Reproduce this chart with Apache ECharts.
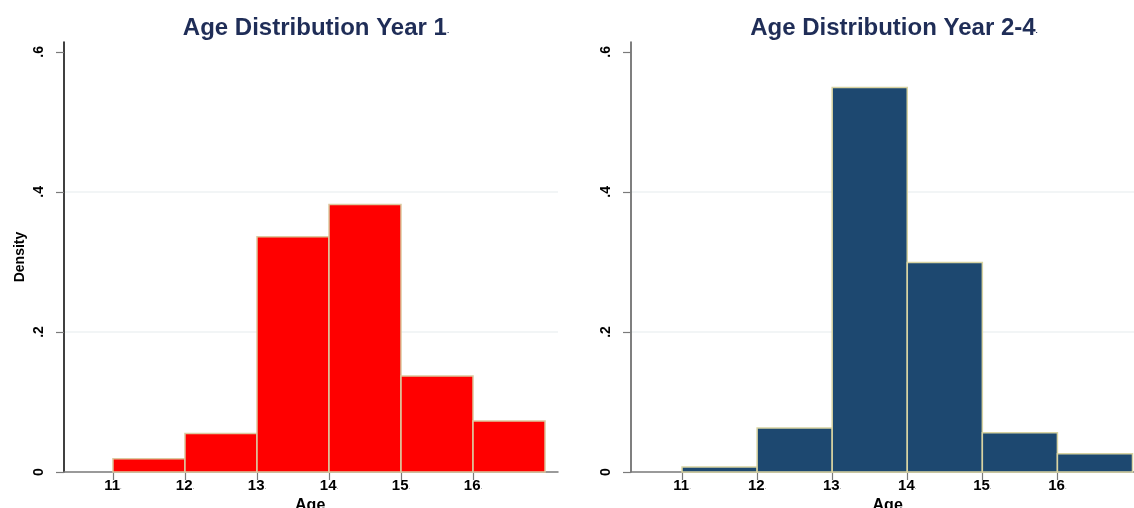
<!DOCTYPE html>
<html>
<head>
<meta charset="utf-8">
<script src="https://cdn.jsdelivr.net/npm/echarts@6/dist/echarts.min.js"></script>
<style>
html,body{margin:0;padding:0;background:#fff;}
#c{width:1134px;height:508px;}
</style>
</head>
<body>
<div id="c"></div>
<script>
// Histogram bins (age, width 1 year)
const binStarts = [11, 12, 13, 14, 15, 16];
const binWidth = 1;
const densityYear1 = [0.019, 0.055, 0.336, 0.382, 0.137, 0.073];
const densityYear24 = [0.007, 0.063, 0.549, 0.299, 0.056, 0.026];
const xTicks = [11, 12, 13, 14, 15, 16];
const yTicks = [0, 0.2, 0.4, 0.6];
const yTickLabels = ['0', '.2', '.4', '.6'];
const titles = ['Age Distribution Year 1', 'Age Distribution Year 2-4'];
const xTitle = 'Age';
const yTitle = 'Density';

const FONT = '"Liberation Sans", Arial, sans-serif';

function histData(vals) {
  return binStarts.map((s, i) => [s, s + binWidth, vals[i]]);
}

function renderBin(params, api) {
  const p0 = api.coord([api.value(0), api.value(2)]);
  const p1 = api.coord([api.value(1), 0]);
  return {
    type: 'rect',
    shape: { x: p0[0], y: p0[1], width: p1[0] - p0[0], height: p1[1] - p0[1] },
    style: api.style()
  };
}

function xAxisCfg(idx) {
  return {
    type: 'value', gridIndex: idx, min: 10.32, max: 17.18,
    name: '{a|' + xTitle + '}{d|.}', nameLocation: 'middle', nameGap: 21,
    nameTextStyle: { rich: {
      a: { fontFamily: FONT, fontWeight: 'bold', fontSize: 16, color: '#000' },
      d: { fontFamily: FONT, fontSize: 6, color: '#000', verticalAlign: 'bottom', padding: [0, 0, 3, 0] }
    } },
    axisLine: { show: true, onZero: false, lineStyle: { color: '#7a7a7a', width: 1.5 } },
    axisTick: { show: true, customValues: xTicks, length: 8, lineStyle: { color: '#7a7a7a', width: 1.2 } },
    axisLabel: {
      customValues: xTicks, margin: 6,
      formatter: v => '{a|' + v + '}{d|.}',
      rich: {
        a: { fontFamily: FONT, fontWeight: 'bold', fontSize: 15, color: '#000' },
        d: { fontFamily: FONT, fontSize: 6, color: '#000', verticalAlign: 'bottom', padding: [0, 0, 3, 0] }
      }
    },
    splitLine: { show: false }
  };
}

function yAxisCfg(idx, withName, lineColor) {
  return {
    type: 'value', gridIndex: idx, min: 0, max: 0.614, interval: 0.2,
    name: withName ? yTitle : '', nameLocation: 'middle', nameGap: 37, nameRotate: 90,
    nameTextStyle: { fontFamily: FONT, fontWeight: 'bold', fontSize: 14, color: '#000' },
    axisLine: { show: true, onZero: false, lineStyle: { color: lineColor, width: 1.5 } },
    axisTick: { show: true, customValues: yTicks, length: 8, lineStyle: { color: '#7a7a7a', width: 1.2 } },
    axisLabel: {
      customValues: yTicks, rotate: 90, margin: 18,
      formatter: v => {
        const i = yTicks.findIndex(t => Math.abs(t - v) < 1e-9);
        return i >= 0 ? yTickLabels[i] : '';
      },
      fontFamily: FONT, fontWeight: 'bold', fontSize: 14, color: '#000'
    },
    splitLine: { show: true, showMaxLine: false, showMinLine: false, lineStyle: { color: '#eef2f3', width: 1.5 } }
  };
}

function titleCfg(text, cx) {
  return {
    text: '{a|' + text + '}{d|.}', left: cx, top: 11, textAlign: 'center',
    textStyle: { rich: {
      a: { fontFamily: FONT, fontWeight: 'bold', fontSize: 24, color: '#1f2d57' },
      d: { fontFamily: FONT, fontSize: 8, color: '#1f2d57', verticalAlign: 'bottom', padding: [0, 0, 5, 0] }
    } }
  };
}

const chart = echarts.init(document.getElementById('c'));
chart.setOption({
  animation: false,
  backgroundColor: '#ffffff',
  title: [titleCfg(titles[0], 311), titleCfg(titles[1], 889)],
  grid: [
    { left: 64, top: 42, width: 494, height: 430, outerBoundsMode: 'none', containLabel: false },
    { left: 631, top: 42, width: 515, height: 430, outerBoundsMode: 'none', containLabel: false }
  ],
  xAxis: [xAxisCfg(0), xAxisCfg(1)],
  yAxis: [yAxisCfg(0, true, '#000000'), yAxisCfg(1, false, '#555555')],
  series: [
    {
      type: 'custom', xAxisIndex: 0, yAxisIndex: 0, renderItem: renderBin,
      encode: { x: [0, 1], y: 2 },
      itemStyle: { color: '#ff0000', borderColor: '#dcc9a0', borderWidth: 1.5 },
      data: histData(densityYear1)
    },
    {
      type: 'custom', xAxisIndex: 1, yAxisIndex: 1, renderItem: renderBin,
      encode: { x: [0, 1], y: 2 },
      itemStyle: { color: '#1d4870', borderColor: '#d8d3a2', borderWidth: 1.5 },
      data: histData(densityYear24)
    }
  ]
});
</script>
</body>
</html>
